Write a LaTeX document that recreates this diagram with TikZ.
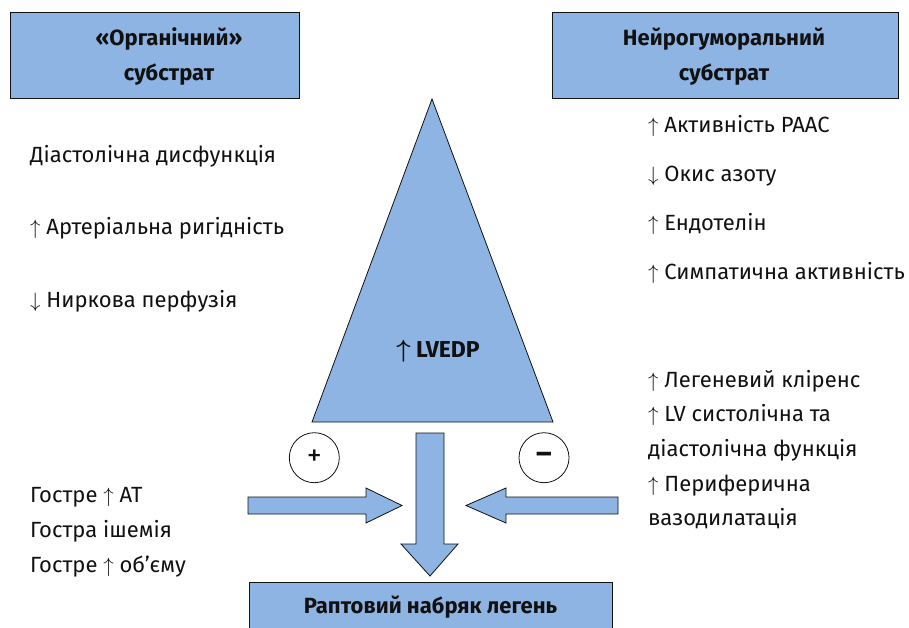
\documentclass[tikz,border=0pt]{standalone}
\usepackage{fontspec}
\setmainfont{Fira Sans}
\usetikzlibrary{positioning}
\definecolor{ink}{HTML}{111111}
\definecolor{boxf}{HTML}{8EB4E3}
\tikzset{
  box/.style={draw=ink,fill=boxf,line width=0.8pt,inner sep=0pt},
  blk/.style={draw=ink,fill=boxf,line width=0.8pt,line join=miter},
  title/.style={font=\fontsize{22}{35}\selectfont\bfseries,align=center,text=ink,inner sep=0pt},
  item/.style={font=\fontsize{22}{26}\selectfont,text=ink,anchor=base west,inner sep=0pt},
  sign/.style={circle,draw=ink,fill=white,line width=0.8pt,minimum size=50pt,inner sep=0pt,font=\fontsize{30}{30}\selectfont,text=ink}
}
\newcommand{\arrup}{$\uparrow$}
\newcommand{\arrdn}{$\downarrow$}
\begin{document}
\begin{tikzpicture}[x=1pt,y=-1pt]
\clip (0,0) rectangle (909,627);
% ===================== the two substrates =====================
\node[box,minimum width=289pt,minimum height=86pt] (org) at (154.5,55) {};
\node[title] (orgt) at (169,57) {«Органічний»\\субстрат};
\node[box,minimum width=346pt,minimum height=86pt] (neuro) at (725,55) {};
\node[title] (neurot) at (724,57) {Нейрогуморальний\\субстрат};
% left list
\foreach \t [count=\i] in {Діастолічна дисфункція,\arrup\ Артеріальна ригідність,\arrdn\ Ниркова перфузія}
  \node[item] (lo\i) at (30,162+72.5*\i-72.5) {\t};
% right list
\foreach \t [count=\i] in {\arrup\ Активність РААС,\arrdn\ Окис азоту,\arrup\ Ендотелін,\arrup\ Симпатична активність}
  \node[item] (rn\i) at (648,132+49.3*\i-49.3) {\t};
% ===================== the triangle =====================
\coordinate (apex) at (432,99);
\coordinate (bl) at (312,422);
\coordinate (br) at (553,422);
\draw[blk] (apex) -- (br) -- (bl) -- cycle;
\node[font=\fontsize{23}{26}\selectfont\bfseries\boldmath,text=ink,anchor=base,inner sep=0pt] (lvedp) at (438,357) {$\uparrow$ LVEDP};
% ===================== the outcome =====================
\draw[blk] (416,433) -- (444,433) -- (444,544) -- (458,544) -- (430,576) -- (401,544) -- (416,544) -- cycle;
\draw[blk] (248,497) -- (366,497) -- (366,488) -- (402,505.5) -- (366,523) -- (366,514) -- (248,514) -- cycle;
\draw[blk] (618,497) -- (506,497) -- (506,488) -- (466,505.5) -- (506,523) -- (506,514) -- (618,514) -- cycle;
\node[sign] (plus) at (314.3,457.7) {+};
\node[sign] (minus) at (544,457.7) {\bfseries –};
\node[box,minimum width=363pt,minimum height=50pt,text height=16pt,text depth=4pt,font=\fontsize{22}{26}\selectfont\bfseries,text=ink] (edema) at (430.5,607) {Раптовий набряк легень};
% left and right modifiers
\foreach \t [count=\i] in {Гостре \arrup\ АТ,Гостра ішемія,Гостре \arrup\ об’єму}
  \node[item] (ac\i) at (30,502+35*\i-35) {\t};
\foreach \t [count=\i] in {\arrup\ Легеневий кліренс,\arrup\ LV систолічна та,діастолічна функція,\arrup\ Периферична,вазодилатація}
  \node[item] (rl\i) at (648,387+34.7*\i-34.7) {\t};
\end{tikzpicture}
\end{document}
